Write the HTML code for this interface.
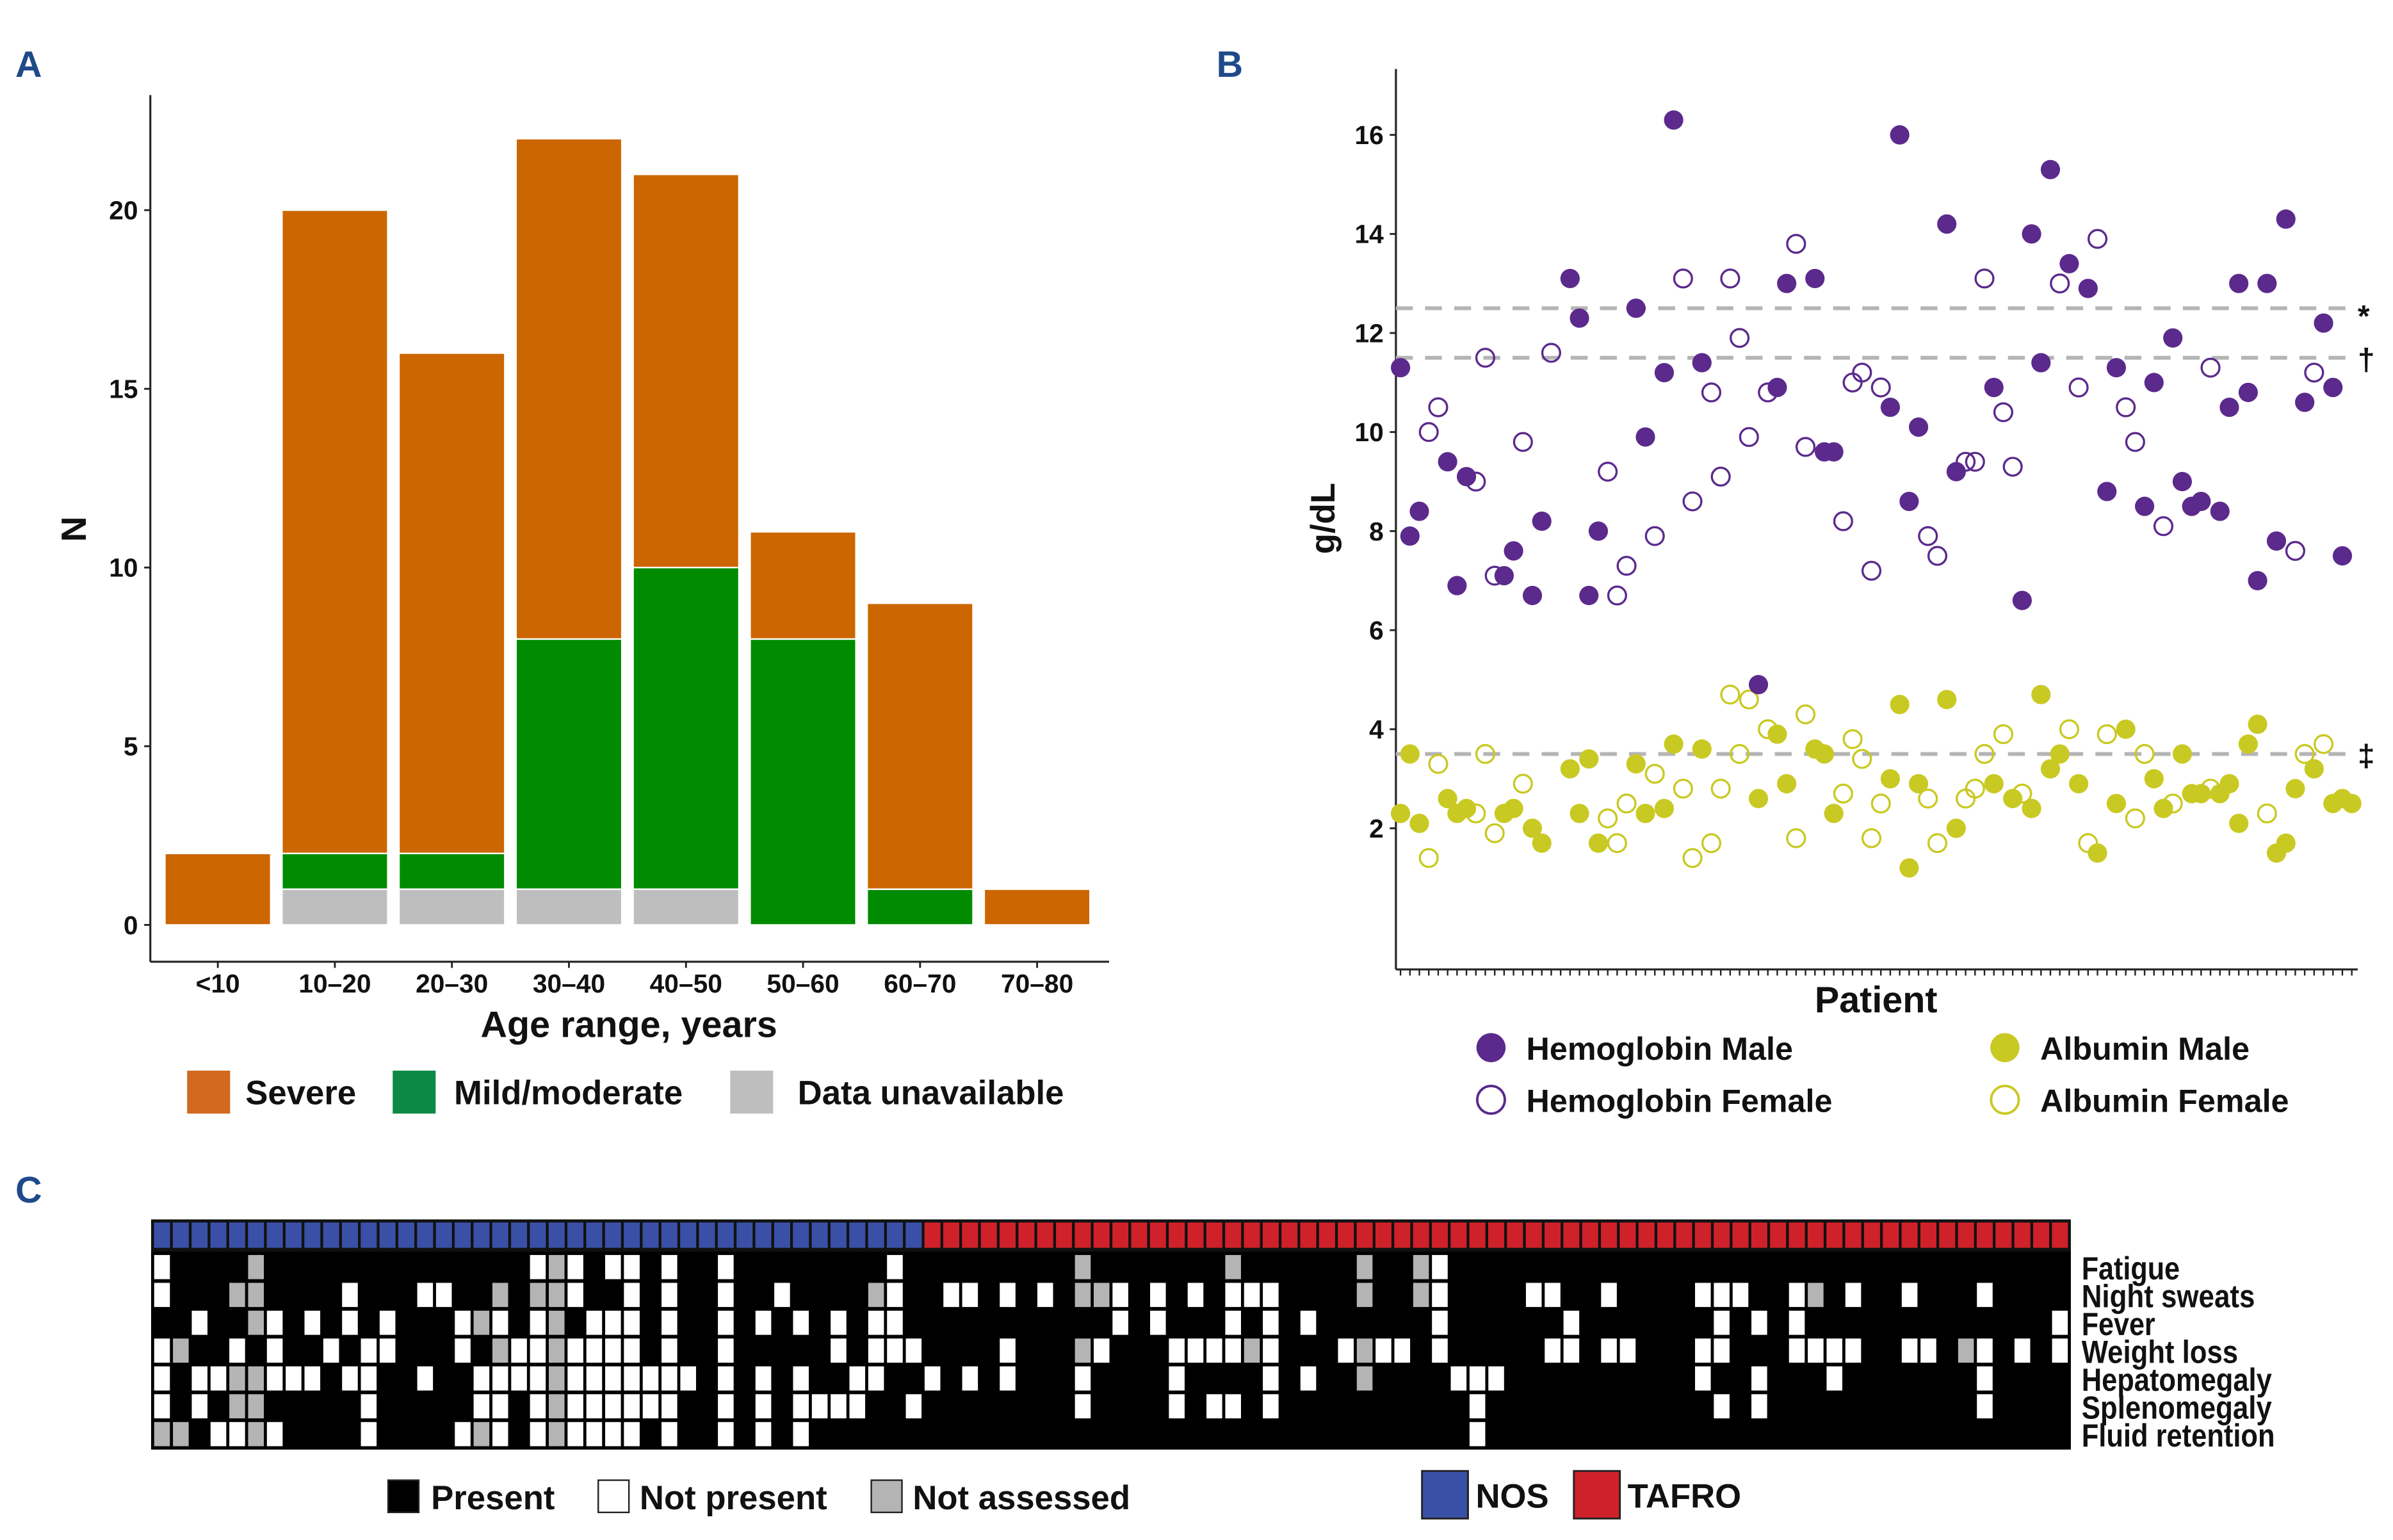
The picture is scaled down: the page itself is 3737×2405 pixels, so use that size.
<!DOCTYPE html>
<html><head><meta charset="utf-8"><style>
html,body{margin:0;padding:0;background:#fff;}
svg{display:block;}
text{font-family:"Liberation Sans",Arial,sans-serif;font-weight:bold;fill:#111;}
</style></head><body>
<svg id="fig" xmlns="http://www.w3.org/2000/svg" width="3737" height="2405" viewBox="0 0 1560 1004" preserveAspectRatio="none">
<text x="10" y="50" style="font-size:24px;fill:#1f4a8a">A</text>
<text x="793" y="50" style="font-size:24px;fill:#1f4a8a">B</text>
<text x="10" y="784" style="font-size:24px;fill:#1f4a8a">C</text>
<g id="pa"></g>
<g id="pb"></g>
<g id="pc"></g>
</svg>
<script>
// ---------- Panel A data ----------
const ageCats = ["<10","10\u201320","20\u201330","30\u201340","40\u201350","50\u201360","60\u201370","70\u201380"];
const unavailVals = [0,1,1,1,1,0,0,0];
const mildVals = [0,1,1,7,9,8,1,0];
const severeVals = [2,18,14,14,11,3,8,1];
const aTicks = [0,5,10,15,20];
// ---------- Panel B data ----------
const hbVals = [11.3,7.9,8.4,10.0,10.5,9.4,6.9,9.1,9.0,11.5,7.1,7.1,7.6,9.8,6.7,8.2,11.6,null,13.1,12.3,6.7,8.0,9.2,6.7,7.3,12.5,9.9,7.9,11.2,16.3,13.1,8.6,11.4,10.8,9.1,13.1,11.9,9.9,4.9,10.8,10.9,13.0,13.8,9.7,13.1,9.6,9.6,8.2,11.0,11.2,7.2,10.9,10.5,16.0,8.6,10.1,7.9,7.5,14.2,9.2,9.4,9.4,13.1,10.9,10.4,9.3,6.6,14.0,11.4,15.3,13.0,13.4,10.9,12.9,13.9,8.8,11.3,10.5,9.8,8.5,11.0,8.1,11.9,9.0,8.5,8.6,11.3,8.4,10.5,13.0,10.8,7.0,13.0,7.8,14.3,7.6,10.6,11.2,12.2,10.9,7.5,null];
const hbMale = [1,1,1,0,0,1,1,1,0,0,0,1,1,0,1,1,0,0,1,1,1,1,0,0,0,1,1,0,1,1,0,0,1,0,0,0,0,0,1,0,1,1,0,0,1,1,1,0,0,0,0,0,1,1,1,1,0,0,1,1,0,0,0,1,0,0,1,1,1,1,0,1,0,1,0,1,1,0,0,1,1,0,1,1,1,1,0,1,1,1,1,1,1,1,1,0,1,0,1,1,1,0];
const albVals = [2.3,3.5,2.1,1.4,3.3,2.6,2.3,2.4,2.3,3.5,1.9,2.3,2.4,2.9,2.0,1.7,null,null,3.2,2.3,3.4,1.7,2.2,1.7,2.5,3.3,2.3,3.1,2.4,3.7,2.8,1.4,3.6,1.7,2.8,4.7,3.5,4.6,2.6,4.0,3.9,2.9,1.8,4.3,3.6,3.5,2.3,2.7,3.8,3.4,1.8,2.5,3.0,4.5,1.2,2.9,2.6,1.7,4.6,2.0,2.6,2.8,3.5,2.9,3.9,2.6,2.7,2.4,4.7,3.2,3.5,4.0,2.9,1.7,1.5,3.9,2.5,4.0,2.2,3.5,3.0,2.4,2.5,3.5,2.7,2.7,2.8,2.7,2.9,2.1,3.7,4.1,2.3,1.5,1.7,2.8,3.5,3.2,3.7,2.5,2.6,2.5];
const albMale = [1,1,1,0,0,1,1,1,0,0,0,1,1,0,1,1,0,0,1,1,1,1,0,0,0,1,1,0,1,1,0,0,1,0,0,0,0,0,1,0,1,1,0,0,1,1,1,0,0,0,0,0,1,1,1,1,0,0,1,1,0,0,0,1,0,1,0,1,1,1,1,0,1,0,1,0,1,1,0,0,1,1,0,1,1,1,0,1,1,1,1,1,0,1,1,1,0,1,0,1,1,1];
const bTicks = [2,4,6,8,10,12,14,16];
const refLines = [12.5,11.5,3.5];
const refSymbols = ["*","\u2020","\u2021"];
// ---------- Panel C data ----------
const symptoms = ["Fatigue","Night sweats","Fever","Weight loss","Hepatomegaly","Splenomegaly","Fluid retention"];
const nPatients = 102;
const nNOS = 41;
const whiteCells = [
 [0,20,22,24,25,27,30,39,68],
 [0,10,14,15,22,25,27,30,33,39,42,43,45,47,51,53,55,57,58,59,68,73,74,77,82,83,84,87,90,93,97],
 [2,6,8,10,12,16,18,20,23,24,25,27,30,32,34,36,38,39,51,53,57,59,61,68,75,83,85,87,101],
 [0,4,6,9,11,12,16,19,20,22,23,24,25,27,30,36,38,39,40,45,50,54,55,56,57,59,63,65,66,68,74,75,77,78,82,83,87,88,89,90,93,94,97,99,101],
 [0,2,3,6,7,8,10,11,14,17,18,19,20,22,23,24,25,26,27,28,30,32,34,37,38,41,43,45,49,54,59,61,69,70,71,82,85,89,97],
 [0,2,11,17,18,20,22,23,24,25,26,27,30,32,34,35,36,37,40,49,54,56,57,59,70,83,85,97],
 [3,4,6,11,16,18,20,22,23,24,25,27,30,32,34,70]
];
const greyCells = [
 [5,21,49,57,64,67],
 [4,5,18,20,21,38,49,50,64,67,88],
 [5,17,21],
 [1,18,21,49,58,64,96],
 [4,5,21,64],
 [4,5,21],
 [0,1,5,17,21]
];

const NS="http://www.w3.org/2000/svg";
function mk(parent,tag,attrs,text){const e=document.createElementNS(NS,tag);for(const k in attrs)e.setAttribute(k,attrs[k]);if(text!==undefined)e.textContent=text;parent.appendChild(e);return e;}

// ===== Panel A =====
(function(){
const g=document.getElementById('pa');
const x0=98,xEnd=723,yTop=62,yBase=627;
const yA=v=>603-v*23.3;
const bw=69;
const xA=i=>142+i*76.3;
let e;
e=mk(g,'line',{x1:x0,y1:yTop,x2:x0,y2:yBase,stroke:'#222','stroke-width':1.3});

e=mk(g,'line',{x1:x0,y1:yBase,x2:xEnd,y2:yBase,stroke:'#222','stroke-width':1.3});

aTicks.forEach(t=>{
 e=mk(g,'line',{x1:x0-4,y1:yA(t),x2:x0,y2:yA(t),stroke:'#222','stroke-width':1.2});
 
 e=mk(g,'text',{x:x0-8,y:yA(t)+6,'text-anchor':'end',style:'font-size:17px'},String(t));
 
});
const cols=['#bebebe','#008b00','#cc6600'];
const names=['unavailable','mild','severe'];
ageCats.forEach((c,i)=>{
 let base=0;
 [unavailVals[i],mildVals[i],severeVals[i]].forEach((v,k)=>{
  if(v>0){
   e=mk(g,'rect',{x:xA(i)-bw/2,y:yA(base+v),width:bw,height:yA(base)-yA(base+v),fill:cols[k],stroke:'#fff','stroke-width':1});
   
  }
  base+=v;
 });
 e=mk(g,'line',{x1:xA(i),y1:yBase,x2:xA(i),y2:yBase+4,stroke:'#222','stroke-width':1.2});
 
 e=mk(g,'text',{x:xA(i),y:647,'text-anchor':'middle',style:'font-size:17px'},c);
 
});
e=mk(g,'text',{x:0,y:0,'text-anchor':'middle',transform:'translate(56,345) rotate(-90)',style:'font-size:23px'},'N');

e=mk(g,'text',{x:410,y:676,'text-anchor':'middle',style:'font-size:24px'},'Age range, years');

const leg=[['Severe','#d2691e',122,160],['Mild/moderate','#0c8a45',256,296],['Data unavailable','#bebebe',476,520]];
leg.forEach(l=>{
 e=mk(g,'rect',{x:l[2],y:698,width:28,height:28,fill:l[1]});
 
 e=mk(g,'text',{x:l[3],y:720,style:'font-size:22px'},l[0]);
 
});
})();

// ===== Panel B =====
(function(){
const g=document.getElementById('pb');
const x0=910,xEnd=1537,yTop=45,yBase=632;
const yB=v=>540-(v-2)*32.29;
const xB=i=>913+i*6.14;
let e;
e=mk(g,'line',{x1:x0,y1:yTop,x2:x0,y2:yBase,stroke:'#222','stroke-width':1.3});

e=mk(g,'line',{x1:x0,y1:yBase,x2:xEnd,y2:yBase,stroke:'#222','stroke-width':1.3});

bTicks.forEach(t=>{
 e=mk(g,'line',{x1:x0-4,y1:yB(t),x2:x0,y2:yB(t),stroke:'#222','stroke-width':1.2});
 
 e=mk(g,'text',{x:x0-8,y:yB(t)+6,'text-anchor':'end',style:'font-size:17px'},String(t));
 
});
for(let i=0;i<nPatients;i++){
 e=mk(g,'line',{x1:xB(i),y1:yBase,x2:xB(i),y2:yBase+4,stroke:'#222','stroke-width':1});
 
}
refLines.forEach((v,k)=>{
 e=mk(g,'line',{x1:x0,y1:yB(v),x2:xEnd,y2:yB(v),stroke:'#b5b5b5','stroke-width':2.5,'stroke-dasharray':'11,8'});
 
 e=mk(g,'text',{x:1537,y:yB(v)+(k==0?12:8),style:'font-size:20px'},refSymbols[k]);
 
});
const purple='#5b2a8c', olive='#c9c923';
function pt(v,i,male,col,name){
 if(v===null||v===undefined)return;
 e=mk(g,'circle',male?{cx:xB(i),cy:yB(v),r:6.3,fill:col}:{cx:xB(i),cy:yB(v),r:5.8,fill:'none',stroke:col,'stroke-width':1.4});
 
}
albVals.forEach((v,i)=>pt(v,i,albMale[i],olive,'albumin-point'));
hbVals.forEach((v,i)=>pt(v,i,hbMale[i],purple,'hemoglobin-point'));
e=mk(g,'text',{x:1223,y:660,'text-anchor':'middle',style:'font-size:24px'},'Patient');

e=mk(g,'text',{x:0,y:0,'text-anchor':'middle',transform:'translate(870,338) rotate(-90)',style:'font-size:22px'},'g/dL');

const leg=[[972,683,1,purple,'Hemoglobin Male',995],[972,717,0,purple,'Hemoglobin Female',995],[1307,683,1,olive,'Albumin Male',1330],[1307,717,0,olive,'Albumin Female',1330]];
leg.forEach(l=>{
 e=mk(g,'circle',l[2]?{cx:l[0],cy:l[1],r:9.5,fill:l[3]}:{cx:l[0],cy:l[1],r:9,fill:'none',stroke:l[3],'stroke-width':1.6});
 
 e=mk(g,'text',{x:l[5],y:l[1]+8,style:'font-size:21px'},l[4]);
 
});
})();

// ===== Panel C =====
(function(){
const g=document.getElementById('pc');
const x0=99.5,cw=12.25,yHeat=817,rh=18.15;
const xC=i=>x0+i*cw;
const yR=r=>yHeat+r*rh;
let e;
e=mk(g,'rect',{x:x0-1,y:795,width:nPatients*cw+2,height:22,fill:'#111'});

for(let i=0;i<nPatients;i++){
 e=mk(g,'rect',{x:xC(i)+0.9,y:797,width:cw-1.8,height:16.5,fill:i<nNOS?'#3a50a6':'#cf2129'});
 
}
e=mk(g,'rect',{x:x0-1,y:yHeat-1,width:nPatients*cw+2,height:symptoms.length*rh+2,fill:'#000'});

symptoms.forEach((s,r)=>{
 whiteCells[r].forEach(i=>{
  e=mk(g,'rect',{x:xC(i)+1,y:yR(r)+1.2,width:cw-2,height:rh-2.4,fill:'#fff'});
  
 });
 greyCells[r].forEach(i=>{
  e=mk(g,'rect',{x:xC(i)+1,y:yR(r)+1.2,width:cw-2,height:rh-2.4,fill:'#b4b4b4'});
  
 });
 const tl=[64,113,48,102,124,124,126][r];
 e=mk(g,'text',{x:1357,y:yR(r)+rh/2+8,textLength:tl,lengthAdjust:'spacingAndGlyphs',style:'font-size:21px'},s);
 
});
const leg=[[253,'#000','Present',281],[390,'#fff','Not present',417],[568,'#b4b4b4','Not assessed',595]];
leg.forEach(l=>{
 e=mk(g,'rect',{x:l[0],y:965,width:20,height:21,fill:l[1],stroke:'#222','stroke-width':1});
 
 e=mk(g,'text',{x:l[3],y:984,style:'font-size:22px'},l[2]);
 
});
const leg2=[[927,'#3a50a6','NOS',962],[1026,'#cf2129','TAFRO',1061]];
leg2.forEach(l=>{
 e=mk(g,'rect',{x:l[0],y:959,width:30,height:31,fill:l[1],stroke:'#222','stroke-width':1.2});
 
 e=mk(g,'text',{x:l[3],y:983,style:'font-size:22px'},l[2]);
 
});
})();
</script>
</body></html>
